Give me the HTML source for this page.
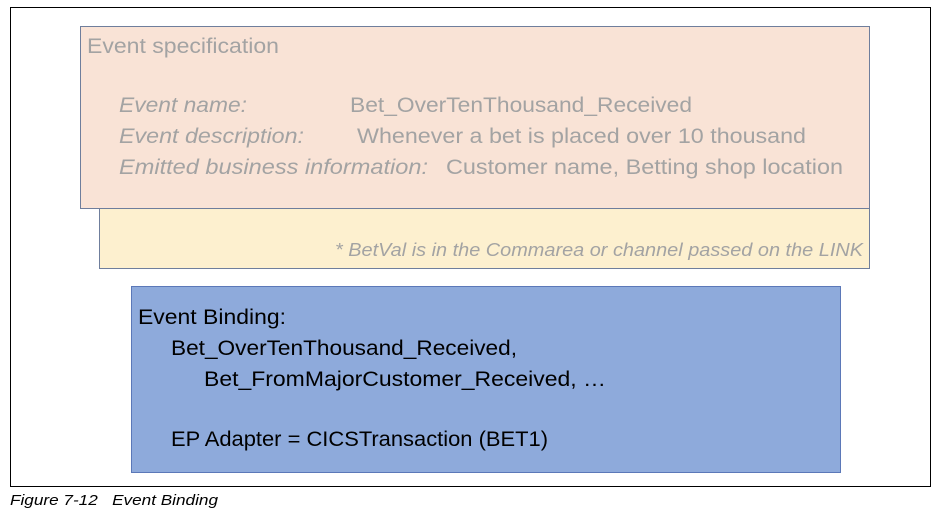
<!DOCTYPE html>
<html><head><meta charset="utf-8"><style>
html,body{margin:0;padding:0;background:#fff;width:938px;height:518px;overflow:hidden}
svg{display:block}
</style></head><body>
<svg width="938" height="518" xmlns="http://www.w3.org/2000/svg" font-family="Liberation Sans, sans-serif">
<rect x="0" y="0" width="938" height="518" fill="#fff"/>
<rect x="10.5" y="7.5" width="920" height="479" fill="none" stroke="#000" stroke-width="1"/>
<rect x="99.5" y="208.5" width="770" height="60" fill="#fdf0cf" stroke="#6f7e9c" stroke-width="1"/>
<rect x="80.5" y="26.5" width="789" height="182" fill="#f9e3d6" stroke="#6f7e9c" stroke-width="1"/>
<g fill="#a3a3a3" font-size="21">
<text x="87" y="53" textLength="192" lengthAdjust="spacingAndGlyphs">Event specification</text>
<text x="119" y="112" font-style="italic" textLength="128" lengthAdjust="spacingAndGlyphs">Event name:</text>
<text x="350" y="112" textLength="342" lengthAdjust="spacingAndGlyphs">Bet_OverTenThousand_Received</text>
<text x="119" y="143" font-style="italic" textLength="185" lengthAdjust="spacingAndGlyphs">Event description:</text>
<text x="357" y="143" textLength="449" lengthAdjust="spacingAndGlyphs">Whenever a bet is placed over 10 thousand</text>
<text x="119" y="174" font-style="italic" textLength="309" lengthAdjust="spacingAndGlyphs">Emitted business information:</text>
<text x="446" y="174" textLength="397" lengthAdjust="spacingAndGlyphs">Customer name, Betting shop location</text>
<text x="335" y="256" font-size="18" font-style="italic" textLength="528" lengthAdjust="spacingAndGlyphs">*  BetVal is in the Commarea or channel passed on the LINK</text>
</g>
<rect x="131.5" y="286.5" width="709" height="186" fill="#8eaadb" stroke="#5b78b8" stroke-width="1"/>
<g fill="#000" font-size="21">
<text x="138" y="324" textLength="148" lengthAdjust="spacingAndGlyphs">Event Binding:</text>
<text x="171" y="355" textLength="346" lengthAdjust="spacingAndGlyphs">Bet_OverTenThousand_Received,</text>
<text x="204" y="386" textLength="402" lengthAdjust="spacingAndGlyphs">Bet_FromMajorCustomer_Received, …</text>
<text x="171" y="446" textLength="377" lengthAdjust="spacingAndGlyphs">EP Adapter = CICSTransaction (BET1)</text>
</g>
<text x="10" y="505" font-size="15" font-style="italic" fill="#000" textLength="208" lengthAdjust="spacingAndGlyphs" xml:space="preserve">Figure 7-12   Event Binding</text>
</svg>
</body></html>
